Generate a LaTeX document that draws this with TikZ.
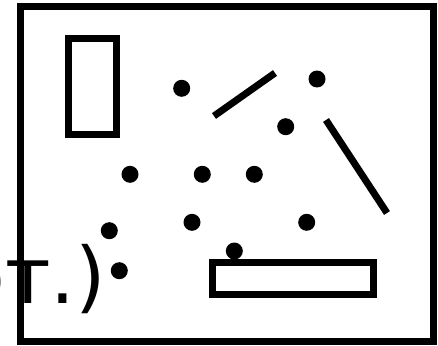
\documentclass[tikz,border=0pt]{standalone}
\usepackage{fontspec}
\newfontfamily\dejavu{DejaVu Sans}
\begin{document}
\begin{tikzpicture}[x=1pt,y=-1pt,
  thick line/.style={line width=7pt},
  dotmark/.style={circle,fill=black,inner sep=0pt,minimum size=17pt},
  label text/.style={font=\dejavu\fontsize{78}{80}\selectfont,inner sep=0pt}]
\useasboundingbox (0,0) rectangle (438,345);
\fill[white] (0,0) rectangle (438,345);
% label partially outside
\node[label text,anchor=base east] (lbl) at (106,303) {от.)};
% frame
\draw[thick line] (20,7) rectangle (433,341);
% rectangles
\draw[thick line] (68.5,38.5) rectangle (116.5,134.5);
\draw[thick line] (212.5,262.5) rectangle (373.5,294.5);
% lines
\coordinate (l1a) at (214,116);
\coordinate (l1b) at (275,73);
\coordinate (l2a) at (326,120);
\coordinate (l2b) at (387,213);
\draw[thick line] (l1a) -- (l1b);
\draw[thick line] (l2a) -- (l2b);
% dots
\node[dotmark] (d1) at (181.7,88.3) {};
\node[dotmark] (d2) at (317,79) {};
\node[dotmark] (d3) at (285.7,126.7) {};
\node[dotmark] (d4) at (130,174.3) {};
\node[dotmark] (d5) at (202.3,174.3) {};
\node[dotmark] (d6) at (254.3,174.3) {};
\node[dotmark] (d7) at (192,222.3) {};
\node[dotmark] (d8) at (306.7,222.3) {};
\node[dotmark] (d9) at (109.3,230.7) {};
\node[dotmark] (d10) at (234.3,251) {};
\node[dotmark] (d11) at (119.3,270.7) {};
\end{tikzpicture}
\end{document}
